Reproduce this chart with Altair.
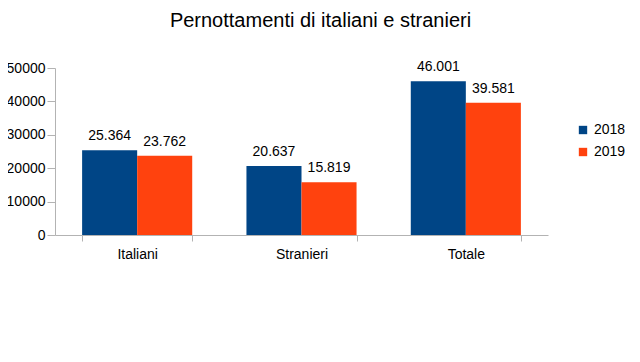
import altair as alt
import pandas as pd

categories = ["Italiani", "Stranieri", "Totale"]
years = ["2018", "2019"]
values_2018 = [25364, 20637, 46001]
values_2019 = [23762, 15819, 39581]

rows = []
for i, c in enumerate(categories):
    for y, vals in zip(years, [values_2018, values_2019]):
        v = vals[i]
        rows.append({"categoria": c, "anno": y, "valore": v,
                     "etichetta": f"{v:,}".replace(",", ".")})
df = pd.DataFrame(rows)

FONT = "Liberation Sans"

x = alt.X("categoria:N", sort=categories, title=None,
          scale=alt.Scale(paddingInner=0.33, paddingOuter=0.165),
          axis=alt.Axis(labelAngle=0, labelFontSize=14, labelColor="#000000",
                        labelFont=FONT, tickBand="extent", tickSize=6,
                        domainColor="#b3b3b3", tickColor="#b3b3b3",
                        labelPadding=6))
xo = alt.XOffset("anno:N", sort=years)

base = alt.Chart(df).encode(x=x, xOffset=xo)

yaxis = alt.Axis(values=[0, 10000, 20000, 30000, 40000, 50000],
                 format="d", grid=False, labelFontSize=14,
                 labelFont=FONT, labelColor="#000000",
                 labelOverlap=False, labelFlush=False,
                 domainColor="#b3b3b3", tickColor="#b3b3b3",
                 tickSize=8, labelPadding=2)
yscale = alt.Scale(domain=[0, 50000], nice=False)

bars = base.mark_bar().encode(
    y=alt.Y("valore:Q", title=None, scale=yscale, axis=yaxis),
    color=alt.Color("anno:N", sort=years,
                    scale=alt.Scale(domain=years, range=["#004586", "#ff420e"]),
                    legend=alt.Legend(title=None, orient="none", legendX=521,
                                      legendY=55, symbolType="square",
                                      symbolSize=70, labelFontSize=14,
                                      labelFont=FONT, labelColor="#000000",
                                      rowPadding=8, symbolStrokeWidth=0)),
)

labels = base.mark_text(baseline="bottom", dy=-7, fontSize=14, font=FONT,
                        color="#000000").encode(
    y=alt.Y("valore:Q", title=None, scale=yscale, axis=yaxis),
    text="etichetta:N",
)

chart = (bars + labels).properties(
    width=493, height=167,
    title=alt.Title("Pernottamenti di italiani e stranieri", fontSize=20,
                    font=FONT, fontWeight="normal", color="#000000",
                    anchor="middle", offset=29, dx=19),
    autosize=alt.AutoSizeParams(type="none"),
    padding={"left": 47, "top": 60, "right": 84, "bottom": 119},
).configure_view(stroke=None).configure_axisY(labelOverlap=False)

chart.save("out.html", embed_options={"renderer": "svg", "actions": False})
